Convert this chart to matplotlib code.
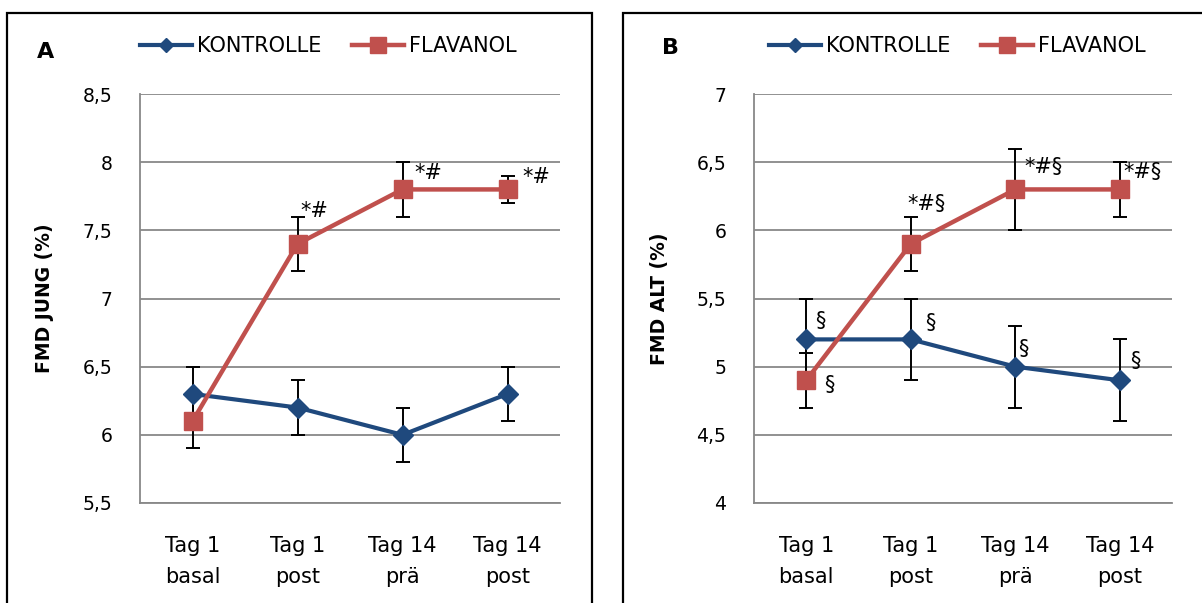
import matplotlib
matplotlib.use("Agg")
import matplotlib.pyplot as plt
from matplotlib.patches import Rectangle
from matplotlib.lines import Line2D

plt.rcParams['font.family'] = ['DejaVu Sans']

categories = ["Tag 1\nbasal", "Tag 1\npost", "Tag 14\nprä", "Tag 14\npost"]

# Panel A (jung)
a_kontrolle = [6.3, 6.2, 6.0, 6.3]
a_kontrolle_err = [0.2, 0.2, 0.2, 0.2]
a_flavanol = [6.1, 7.4, 7.8, 7.8]
a_flavanol_err = [0.2, 0.2, 0.2, 0.1]
a_flav_marks = ["", "*#", "*#", "*#"]
a_kon_marks = ["", "", "", ""]
a_yticks = [5.5, 6, 6.5, 7, 7.5, 8, 8.5]

# Panel B (alt)
b_kontrolle = [5.2, 5.2, 5.0, 4.9]
b_kontrolle_err = [0.3, 0.3, 0.3, 0.3]
b_flavanol = [4.9, 5.9, 6.3, 6.3]
b_flavanol_err = [0.2, 0.2, 0.3, 0.2]
b_flav_marks = ["§", "*#§", "*#§", "*#§"]
b_kon_marks = ["§", "§", "§", "§"]
b_yticks = [4, 4.5, 5, 5.5, 6, 6.5, 7]

BLUE = "#1F497D"
RED = "#C0504D"
GRID = "#888888"

W, H = 1202, 603
fig = plt.figure(figsize=(W / 100, H / 100), dpi=100)


def fx(px):
    return px / W


def fy(py):
    return 1 - py / H


# panel frames
fig.add_artist(Rectangle((fx(7), fy(640)), fx(592 - 7), (640 - 13) / H,
                         transform=fig.transFigure, fill=False, edgecolor="black", lw=1.6))
fig.add_artist(Rectangle((fx(623), fy(640)), fx(1240 - 623), (640 - 13) / H,
                         transform=fig.transFigure, fill=False, edgecolor="black", lw=1.6))


def fmt(v):
    return ("%g" % v).replace(".", ",")


def panel(left, right, letter, letter_xy, ylab, ylab_x, kon, kon_err, flav, flav_err,
          yticks, kon_marks, flav_marks, kon_off, flav_off, leg_x):
    ax = fig.add_axes([fx(left), fy(503), fx(right - left), (503 - 94) / H])
    x = list(range(len(categories)))
    ax.set_xlim(-0.5, len(categories) - 0.5)
    ax.set_ylim(yticks[0], yticks[-1])
    ax.set_yticks(yticks)
    ax.set_yticklabels([fmt(v) for v in yticks], fontsize=13.5)
    ax.set_xticks(x)
    ax.set_xticklabels(categories, fontsize=15, linespacing=1.68)
    ax.tick_params(axis="y", length=0, pad=20)
    ax.tick_params(axis="x", length=0, pad=24)
    ax.grid(axis="y", color=GRID, lw=1.3)
    ax.set_axisbelow(True)
    for s in ["top", "right"]:
        ax.spines[s].set_visible(False)
    for s in ["left", "bottom"]:
        ax.spines[s].set_color(GRID)
        ax.spines[s].set_linewidth(1.3)

    ax.errorbar(x, kon, yerr=kon_err, fmt="none", ecolor="black", elinewidth=1.4,
                capsize=5, capthick=1.4, zorder=2)
    ax.errorbar(x, flav, yerr=flav_err, fmt="none", ecolor="black", elinewidth=1.4,
                capsize=5, capthick=1.4, zorder=2)
    ax.plot(x, kon, color=BLUE, lw=3, marker="D", ms=10, zorder=3)
    ax.plot(x, flav, color=RED, lw=3.2, marker="s", ms=13, zorder=4)

    for i, m in enumerate(kon_marks):
        if m:
            ax.annotate(m, (x[i], kon[i]), xytext=kon_off[i], textcoords="offset pixels",
                        ha="center", va="center", fontsize=15)
    for i, m in enumerate(flav_marks):
        if m:
            ax.annotate(m, (x[i], flav[i]), xytext=flav_off[i], textcoords="offset pixels",
                        ha="center", va="center", fontsize=15)

    ax.set_ylabel(ylab, fontsize=13.5, fontweight="bold")
    ax.yaxis.set_label_coords((ylab_x - left) / (right - left), 0.5)
    fig.text(fx(letter_xy[0]), fy(letter_xy[1]), letter, fontsize=16, fontweight="bold",
             ha="center", va="center")

    handles = [Line2D([], [], color=BLUE, lw=3, marker="D", ms=7),
               Line2D([], [], color=RED, lw=3.2, marker="s", ms=11)]
    fig.legend(handles, ["KONTROLLE", "FLAVANOL"], loc="center left",
               bbox_to_anchor=(fx(leg_x), fy(46)), ncol=2, frameon=False,
               fontsize=15, handlelength=2.5, handletextpad=0.25,
               columnspacing=1.45, borderpad=0, borderaxespad=0)
    return ax


axA = panel(140, 560, "A", (46, 52), "FMD JUNG (%)", 54, a_kontrolle, a_kontrolle_err,
            a_flavanol, a_flavanol_err, a_yticks, a_kon_marks, a_flav_marks,
            [(0, 0)] * 4, [(0, 0), (17, 33), (26, 16), (29, 12)], 140)

axB = panel(754, 1172, "B", (671, 48), "FMD ALT (%)", 669, b_kontrolle, b_kontrolle_err,
            b_flavanol, b_flavanol_err, b_yticks, b_kon_marks, b_flav_marks,
            [(14, 18), (20, 16), (8, 18), (16, 19)],
            [(23, -5), (16, 40), (28, 22), (23, 17)], 769)

fig.savefig("out.png", dpi=100)
